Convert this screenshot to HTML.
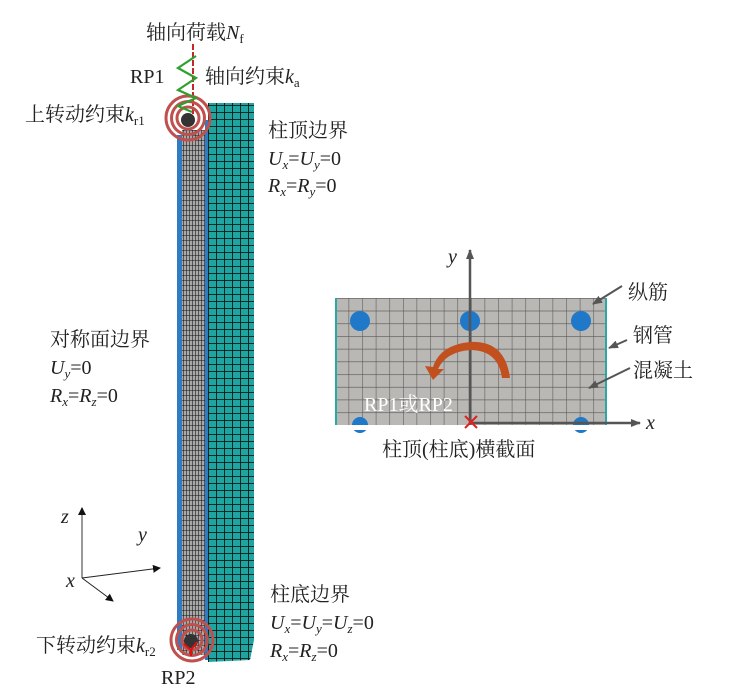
<!DOCTYPE html>
<html><head><meta charset="utf-8"><style>
body{margin:0;background:#fff;}
svg{display:block;}
text{font-family:"Liberation Serif","Noto Serif CJK SC",serif;fill:#222;}
.i{font-style:italic;}
</style></head><body>
<svg width="743" height="694" viewBox="0 0 743 694" xmlns="http://www.w3.org/2000/svg">
<defs>
<pattern id="tg" width="8" height="7" patternUnits="userSpaceOnUse">
<rect width="8" height="7" fill="#1ea5a0"/><path d="M0 0H8M0 0V7" stroke="#081818" stroke-width="1.8"/></pattern>
<pattern id="gg" width="3" height="5" patternUnits="userSpaceOnUse">
<rect width="3" height="5" fill="#a8a8a8"/><path d="M0 0V5M0 0H3" stroke="#111" stroke-width="1.1"/></pattern>
<pattern id="cg" width="13.6" height="12.7" patternUnits="userSpaceOnUse" x="335" y="298">
<rect width="13.6" height="12.7" fill="#bab8b4"/><path d="M0 0H13.6M0 0V12.7" stroke="#555" stroke-width="1.1"/></pattern>
<marker id="ah" markerWidth="8" markerHeight="8" refX="7" refY="4" orient="auto" markerUnits="userSpaceOnUse"><path d="M0 0L8 4L0 8z" fill="#111"/></marker>
<marker id="ag" markerWidth="10" markerHeight="8" refX="9" refY="4" orient="auto" markerUnits="userSpaceOnUse"><path d="M0 0L10 4L0 8z" fill="#555"/></marker>
</defs>

<!-- column -->
<polygon points="208,103 254,103 254,640 250,660 208,662" fill="url(#tg)"/>
<rect x="182" y="130" width="23" height="525" fill="url(#gg)"/>
<rect x="177" y="135" width="5" height="515" fill="#2f7cc4"/>
<rect x="205" y="120" width="3" height="540" fill="#2f7cc4"/>

<!-- top spring & rotation -->
<line x1="193" y1="44" x2="193" y2="122" stroke="#c0282a" stroke-width="2" stroke-dasharray="6,2"/>
<g fill="none" stroke="#c0504d" stroke-width="3">
<circle cx="188" cy="118" r="22"/><circle cx="188" cy="118" r="16.5"/><circle cx="188" cy="118" r="11"/>
</g>
<circle cx="188" cy="120" r="7" fill="#333"/>
<polyline points="196,56 178,68 196,78 178,90 196,98 178,106 192,112" fill="none" stroke="#2ea02e" stroke-width="2.2"/>

<!-- bottom rotation -->
<g fill="none" stroke="#c0504d" stroke-width="3">
<circle cx="192" cy="640" r="21"/><circle cx="192" cy="640" r="15.5"/><circle cx="192" cy="640" r="10"/>
</g>
<circle cx="191" cy="641" r="7" fill="#333"/>
<path d="M184 644L191 650L197 642M191 650V656" stroke="#e01010" stroke-width="2" fill="none"/>

<!-- labels column -->
<text x="146" y="39" font-size="20">轴向荷载<tspan class="i">N</tspan><tspan font-size="13" dy="4">f</tspan></text>
<text x="130" y="83" font-size="20">RP1</text>
<text x="205" y="83" font-size="20">轴向约束<tspan class="i">k</tspan><tspan font-size="13" dy="4">a</tspan></text>
<text x="25" y="121" font-size="20">上转动约束<tspan class="i">k</tspan><tspan font-size="13" dy="4">r1</tspan></text>
<text x="268" y="137" font-size="20">柱顶边界</text>
<text x="268" y="165" font-size="20"><tspan class="i">U</tspan><tspan class="i" font-size="13" dy="4">x</tspan><tspan dy="-4">=</tspan><tspan class="i">U</tspan><tspan class="i" font-size="13" dy="4">y</tspan><tspan dy="-4">=0</tspan></text>
<text x="268" y="192" font-size="20"><tspan class="i">R</tspan><tspan class="i" font-size="13" dy="4">x</tspan><tspan dy="-4">=</tspan><tspan class="i">R</tspan><tspan class="i" font-size="13" dy="4">y</tspan><tspan dy="-4">=0</tspan></text>

<text x="50" y="346" font-size="20">对称面边界</text>
<text x="50" y="374" font-size="20"><tspan class="i">U</tspan><tspan class="i" font-size="13" dy="4">y</tspan><tspan dy="-4">=0</tspan></text>
<text x="50" y="402" font-size="20"><tspan class="i">R</tspan><tspan class="i" font-size="13" dy="4">x</tspan><tspan dy="-4">=</tspan><tspan class="i">R</tspan><tspan class="i" font-size="13" dy="4">z</tspan><tspan dy="-4">=0</tspan></text>

<text x="270" y="601" font-size="20">柱底边界</text>
<text x="270" y="629" font-size="20"><tspan class="i">U</tspan><tspan class="i" font-size="13" dy="4">x</tspan><tspan dy="-4">=</tspan><tspan class="i">U</tspan><tspan class="i" font-size="13" dy="4">y</tspan><tspan dy="-4">=</tspan><tspan class="i">U</tspan><tspan class="i" font-size="13" dy="4">z</tspan><tspan dy="-4">=0</tspan></text>
<text x="270" y="657" font-size="20"><tspan class="i">R</tspan><tspan class="i" font-size="13" dy="4">x</tspan><tspan dy="-4">=</tspan><tspan class="i">R</tspan><tspan class="i" font-size="13" dy="4">z</tspan><tspan dy="-4">=0</tspan></text>
<text x="36" y="652" font-size="20">下转动约束<tspan class="i">k</tspan><tspan font-size="13" dy="4">r2</tspan></text>
<text x="161" y="684" font-size="20">RP2</text>

<!-- axes -->
<line x1="82" y1="578" x2="82" y2="508" stroke="#777" stroke-width="1.5" marker-end="url(#ah)"/>
<line x1="82" y1="578" x2="160" y2="568" stroke="#222" stroke-width="1" marker-end="url(#ah)"/>
<line x1="82" y1="578" x2="113" y2="601" stroke="#222" stroke-width="1" marker-end="url(#ah)"/>
<text x="61" y="523" font-size="20" class="i">z</text>
<text x="138" y="541" font-size="20" class="i">y</text>
<text x="66" y="587" font-size="20" class="i">x</text>

<!-- cross-section -->
<rect x="335" y="298" width="272" height="127" fill="url(#cg)"/>
<rect x="335" y="298" width="2" height="127" fill="#2aa8a8"/>
<rect x="605" y="298" width="2" height="127" fill="#2aa8a8"/>
<g fill="#1f78c8">
<circle cx="360" cy="321" r="10"/><circle cx="470" cy="321" r="10"/><circle cx="581" cy="321" r="10"/>
<circle cx="360" cy="425" r="8"/><circle cx="581" cy="425" r="8"/>
</g>
<rect x="335" y="425" width="272" height="5" fill="#fff"/>
<line x1="470" y1="425" x2="470" y2="250" stroke="#555" stroke-width="2.5" marker-end="url(#ag)"/>
<line x1="470" y1="423" x2="640" y2="423" stroke="#555" stroke-width="2.5" marker-end="url(#ag)"/>
<path d="M465 416L477 428M477 416L465 428" stroke="#e02020" stroke-width="2"/>
<path d="M510 378 Q505 340 470 342 Q440 345 433 367 L425 366 L433 380 L444 369 L438 369 Q446 352 470 350 Q498 350 502 378 Z" fill="#c2501e"/>
<text x="364" y="411" font-size="20" style="fill:#fff">RP1或RP2</text>
<text x="448" y="263" font-size="20" class="i">y</text>
<text x="646" y="429" font-size="20" class="i">x</text>
<text x="382" y="456" font-size="20">柱顶(柱底)横截面</text>
<line x1="622" y1="286" x2="593" y2="304" stroke="#555" stroke-width="2" marker-end="url(#ag)"/>
<line x1="627" y1="340" x2="609" y2="348" stroke="#555" stroke-width="2" marker-end="url(#ag)"/>
<line x1="630" y1="368" x2="589" y2="388" stroke="#555" stroke-width="2" marker-end="url(#ag)"/>
<text x="628" y="299" font-size="20">纵筋</text>
<text x="633" y="342" font-size="20">钢管</text>
<text x="633" y="377" font-size="20">混凝土</text>
</svg>
</body></html>
